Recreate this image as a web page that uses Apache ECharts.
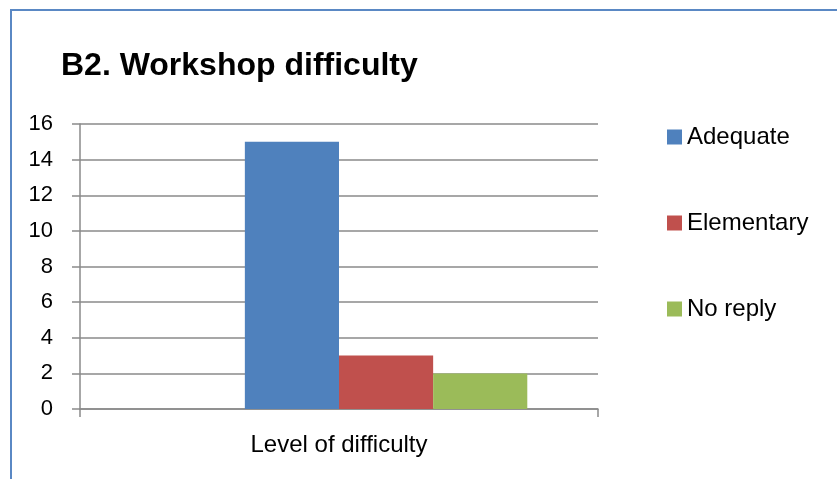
<!DOCTYPE html>
<html>
<head>
<meta charset="utf-8">
<script src="https://cdn.jsdelivr.net/npm/echarts@6/dist/echarts.min.js"></script>
<style>
  html, body { margin: 0; padding: 0; background: #fff; overflow: hidden; }
  #frame { position: absolute; left: 10px; top: 9px; width: 1000px; height: 1000px; border: 2px solid #5a88c4; }
  #chart { position: absolute; left: 0; top: 0; width: 837px; height: 479px; }
</style>
</head>
<body>
<div id="frame"></div>
<div id="chart"></div>
<script>
// chart data
const categories = ['Level of difficulty'];
const seriesNames = ['Adequate', 'Elementary', 'No reply'];
const adequate = [15];
const elementary = [3];
const noReply = [2];
const emptySlot = ['-']; // unused first slot of the cluster
const yMin = 0, yMax = 16, yStep = 2;

const colors = ['#4F81BD', '#C0504D', '#9BBB59'];
const font = "'Liberation Sans', Arial, sans-serif";
const gray = '#8a8a8a';

const chart = echarts.init(document.getElementById('chart'), null, { renderer: 'canvas' });

const option = {
  animation: false,
  title: {
    text: 'B2. Workshop difficulty',
    left: 56,
    top: 45,
    textStyle: { fontFamily: font, fontSize: 32, fontWeight: 'bold', color: '#000' }
  },
  legend: {
    data: seriesNames,
    orient: 'vertical',
    left: 662,
    top: 120,
    itemWidth: 15,
    itemHeight: 15,
    itemGap: 62,
    icon: 'rect',
    textStyle: { fontFamily: font, fontSize: 24, color: '#000' }
  },
  grid: { left: 80, top: 124, right: 239, bottom: 70, containLabel: false },
  xAxis: {
    type: 'category',
    data: categories,
    axisLine: { lineStyle: { color: gray, width: 1.5 } },
    axisTick: { show: true, length: 8, lineStyle: { color: gray, width: 1.5 } },
    axisLabel: { margin: 24, fontFamily: font, fontSize: 24, color: '#000' }
  },
  yAxis: {
    type: 'value',
    min: yMin,
    max: yMax,
    interval: yStep,
    axisLine: { show: true, lineStyle: { color: gray, width: 1.5 } },
    axisTick: { show: true, length: 8, lineStyle: { color: gray, width: 1.5 } },
    axisLabel: { margin: 27, fontFamily: font, fontSize: 22, color: '#000' },
    splitLine: { lineStyle: { color: gray, width: 1.5 } }
  },
  series: [
    { name: '', type: 'bar', data: emptySlot, barGap: 0, barCategoryGap: '27.3%' },
    { name: seriesNames[0], type: 'bar', data: adequate, itemStyle: { color: colors[0] }, barGap: 0, barCategoryGap: '27.3%' },
    { name: seriesNames[1], type: 'bar', data: elementary, itemStyle: { color: colors[1] }, barGap: 0, barCategoryGap: '27.3%' },
    { name: seriesNames[2], type: 'bar', data: noReply, itemStyle: { color: colors[2] }, barGap: 0, barCategoryGap: '27.3%' }
  ]
};

chart.setOption(option);
</script>
</body>
</html>
